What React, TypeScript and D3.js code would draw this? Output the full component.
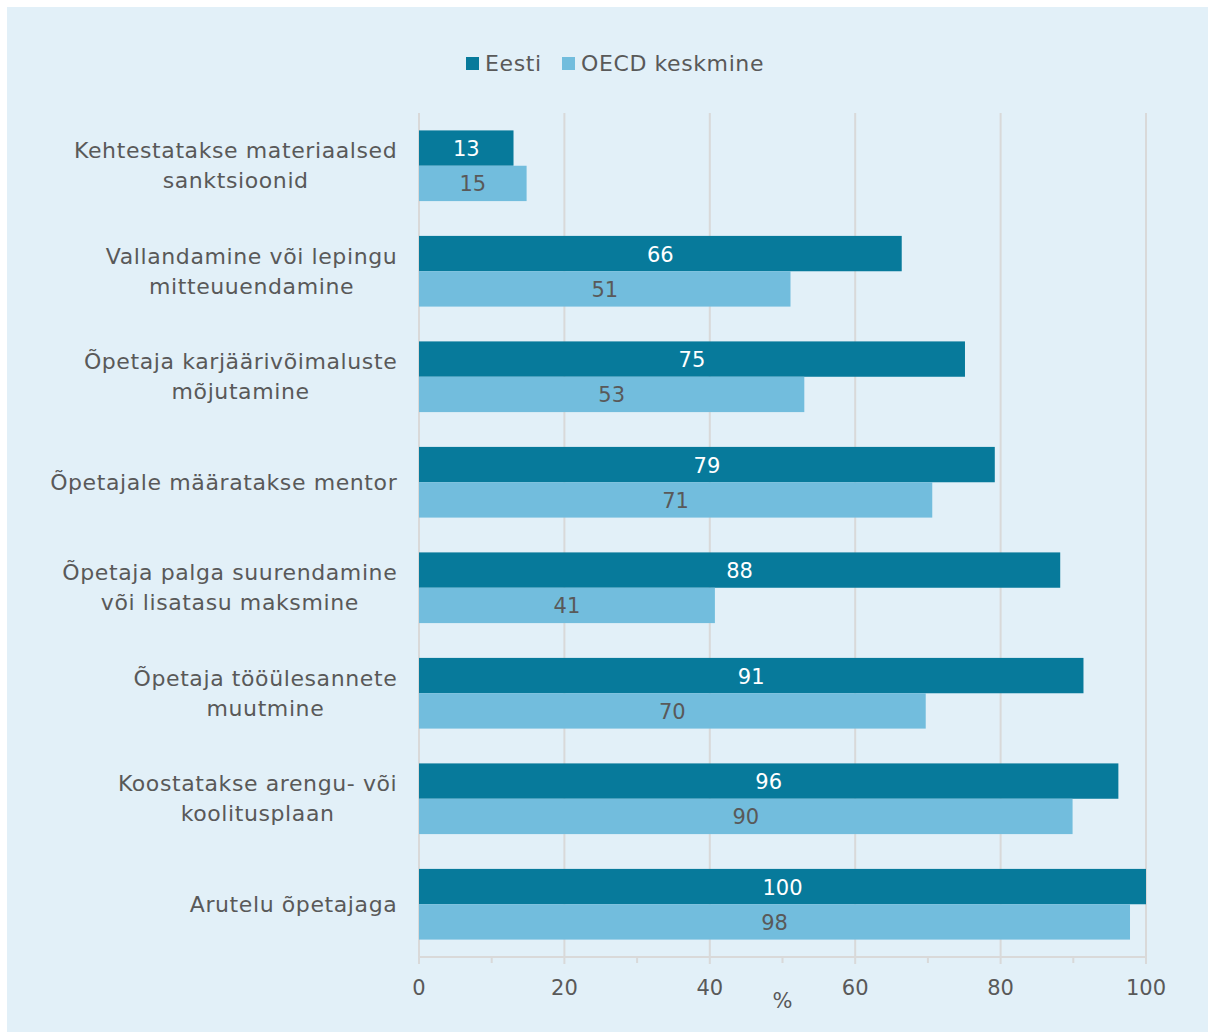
import React from "react";
import * as d3 from "d3";

const categories = [
  ["Kehtestatakse materiaalsed", "sanktsioonid"],
  ["Vallandamine või lepingu", "mitteuuendamine"],
  ["Õpetaja karjäärivõimaluste", "mõjutamine"],
  ["Õpetajale määratakse mentor"],
  ["Õpetaja palga suurendamine", "või lisatasu maksmine"],
  ["Õpetaja tööülesannete", "muutmine"],
  ["Koostatakse arengu- või", "koolitusplaan"],
  ["Arutelu õpetajaga"],
];
const eesti = [13.0, 66.4, 75.1, 79.2, 88.2, 91.4, 96.2, 100];
const oecd = [14.8, 51.1, 53.0, 70.6, 40.7, 69.7, 89.9, 97.8];
const seriesNames = ["Eesti", "OECD keskmine"];
const xTicks = [0, 20, 40, 60, 80, 100];
const xMinorTicks = [10, 30, 50, 70, 90];
const axisTitle = "%";

const W = 1208;
const H = 1032;
const FONT = "'DejaVu Sans', sans-serif";
const TEXT = "#595959";
const DARK = "#077A9B";
const LIGHT = "#72BDDD";
const GRID = "#D9D9D9";
const BG = "#E2F0F8";

let ctx: CanvasRenderingContext2D | null = null;
function measure(s: string, size: number, spacing: number) {
  if (!ctx) ctx = document.createElement("canvas").getContext("2d");
  if (!ctx) return s.length * size * 0.55;
  ctx.font = `${size}px 'DejaVu Sans'`;
  return ctx.measureText(s).width + spacing * s.length;
}

export default function App() {
  const left = 419, right = 1146, top = 113, bottom = 957;
  const x = d3.scaleLinear().domain([0, 100]).range([left, right]);
  const idx = categories.map((_, i) => String(i));
  const y = d3.scaleBand().domain(idx).range([top, bottom]).paddingInner(0.33).paddingOuter(0.165);
  const bw = y.bandwidth() / 2;
  const fs = 21;
  const lfs = 22;
  const ls = 0.6;
  const labelRight = 397;

  return (
    <svg width={W} height={H} style={{ position: "absolute", left: 0, top: 0 }} fontFamily={FONT}>
      <rect x={7} y={7} width={W - 7} height={H - 7} fill={BG} />
      {/* legend */}
      <g>
        <rect x={466} y={57} width={13} height={13} fill={DARK} />
        <text x={485} y={63} dominantBaseline="central" fontSize={lfs} letterSpacing={ls} fill={TEXT}>{seriesNames[0]}</text>
        <rect x={562} y={57} width={13} height={13} fill={LIGHT} />
        <text x={581} y={63} dominantBaseline="central" fontSize={lfs} letterSpacing={ls} fill={TEXT}>{seriesNames[1]}</text>
      </g>
      {/* grid */}
      {xTicks.map((t) => (
        <line key={t} x1={x(t)} x2={x(t)} y1={top} y2={bottom + 7} stroke={GRID} strokeWidth={2} />
      ))}
      {xMinorTicks.map((t) => (
        <line key={t} x1={x(t)} x2={x(t)} y1={bottom} y2={bottom + 6} stroke={GRID} strokeWidth={2} />
      ))}
      <line x1={left} x2={right} y1={bottom} y2={bottom} stroke={GRID} strokeWidth={2} />
      {/* bars */}
      {categories.map((c, i) => {
        const y0 = y(String(i))!;
        const maxW = Math.max(...c.map((l) => measure(l, lfs, ls)));
        const cx = labelRight - maxW / 2;
        return (
          <g key={i}>
            <rect x={x(0)} y={y0} width={x(eesti[i]) - x(0)} height={bw} fill={DARK} />
            <rect x={x(0)} y={y0 + bw} width={x(oecd[i]) - x(0)} height={bw} fill={LIGHT} />
            <text x={(x(0) + x(eesti[i])) / 2} y={y0 + bw / 2 + 1} textAnchor="middle" dominantBaseline="central" fontSize={fs} fill="#FFFFFF">
              {Math.round(eesti[i])}
            </text>
            <text x={(x(0) + x(oecd[i])) / 2} y={y0 + bw * 1.5 + 1} textAnchor="middle" dominantBaseline="central" fontSize={fs} fill={TEXT}>
              {Math.round(oecd[i])}
            </text>
            {c.map((line, j) => (
              <text key={j} x={cx + ls / 2} y={y0 + bw + (j - (c.length - 1) / 2) * 30} textAnchor="middle" dominantBaseline="central" fontSize={lfs} letterSpacing={ls} fill={TEXT}>
                {line}
              </text>
            ))}
          </g>
        );
      })}
      {/* x tick labels */}
      {xTicks.map((t) => (
        <text key={t} x={x(t)} y={988} textAnchor="middle" dominantBaseline="central" fontSize={fs} fill={TEXT}>{t}</text>
      ))}
      <text x={(left + right) / 2} y={1001} textAnchor="middle" dominantBaseline="central" fontSize={fs} fill={TEXT}>{axisTitle}</text>
    </svg>
  );
}
